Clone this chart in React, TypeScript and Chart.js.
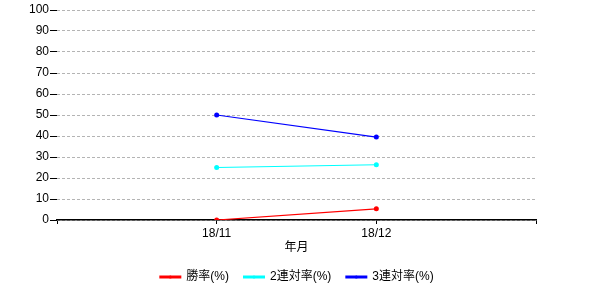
import { useEffect, useRef } from "react";
import { Chart, registerables } from "chart.js";

Chart.register(...registerables);

const categories = ["18/11", "18/12"];
const winRate = [0, 5.3];
const top2Rate = [25, 26.3];
const top3Rate = [50, 39.5];
const seriesNames = ["勝率(%)", "2連対率(%)", "3連対率(%)"];
const seriesColors = ["#ff0000", "#00ffff", "#0000ff"];
const yTicks = [0, 10, 20, 30, 40, 50, 60, 70, 80, 90, 100];
const xTitle = "年月";

const FONT = "'Liberation Sans', 'Noto Sans CJK JP', sans-serif";

const legendPlugin = {
  id: "customLegend",
  afterDraw(chart: any) {
    const ctx = chart.ctx;
    const area = chart.chartArea;
    ctx.save();
    ctx.font = `12px ${FONT}`;
    const lineW = 22;
    const gap = 5;
    const spacing = 14;
    const widths = seriesNames.map((n) => ctx.measureText(n).width);
    const total =
      widths.reduce((a, b) => a + b, 0) + seriesNames.length * (lineW + gap) + spacing * (seriesNames.length - 1);
    let x = (area.left + area.right) / 2 - total / 2;
    const y = 277;
    seriesNames.forEach((n, i) => {
      ctx.strokeStyle = seriesColors[i];
      ctx.lineWidth = 3;
      ctx.beginPath();
      ctx.moveTo(x, y);
      ctx.lineTo(x + lineW, y);
      ctx.stroke();
      ctx.fillStyle = seriesColors[i];
      ctx.beginPath();
      ctx.arc(x + lineW / 2, y, 1.5, 0, Math.PI * 2);
      ctx.fill();
      ctx.fillStyle = "#000";
      ctx.textBaseline = "middle";
      ctx.textAlign = "left";
      ctx.fillText(n, x + lineW + gap, y);
      x += lineW + gap + widths[i] + spacing;
    });
    ctx.textAlign = "center";
    ctx.fillText(xTitle, (area.left + area.right) / 2, 248);
    ctx.restore();
  },
};

export default function App() {
  const ref = useRef<HTMLCanvasElement>(null);
  useEffect(() => {
    document.body.style.margin = "0";
    const labels = ["", ...categories, ""];
    const pad = (arr: number[]) => [null, ...arr, null];
    const datasets = [winRate, top2Rate, top3Rate].map((d, i) => ({
      label: seriesNames[i],
      data: pad(d),
      borderColor: seriesColors[i],
      backgroundColor: seriesColors[i],
      borderWidth: 1.2,
      pointRadius: 2.5,
      pointBorderWidth: 0,
      pointHoverRadius: 2.5,
      spanGaps: false,
    }));
    const chart = new Chart(ref.current!, {
      type: "line",
      data: { labels, datasets },
      plugins: [legendPlugin],
      options: {
        animation: false,
        responsive: false,
        layout: { padding: { top: 10, right: 64, left: 0, bottom: 40 } },
        plugins: { legend: { display: false }, tooltip: { enabled: false } },
        scales: {
          x: {
            type: "category",
            offset: false,
            grid: {
              drawOnChartArea: false,
              drawTicks: true,
              tickLength: 4,
              tickColor: "#000",
              color: "#000",
            },
            border: { display: true, color: "#000", width: 1.5 },
            ticks: {
              autoSkip: false,
              maxRotation: 0,
              padding: 2,
              color: "#000",
              font: { family: FONT, size: 12 },
            },
            afterFit(scale: any) {
              scale.height = 40;
            },
          },
          y: {
            min: 0,
            max: 100,
            afterBuildTicks(scale: any) {
              scale.ticks = yTicks.map((v) => ({ value: v }));
            },
            grid: {
              color: "#b4b4b4",
              tickBorderDash: [1, 0],
              tickColor: "#000",
              tickLength: 7,
              tickWidth: 1,
            } as any,
            border: { display: false, dash: [3, 2] },
            ticks: {
              padding: 1,
              color: "#000",
              font: { family: FONT, size: 12 },
            },
            afterFit(scale: any) {
              scale.width = 57;
            },
          },
        },
      },
    });
    return () => chart.destroy();
  }, []);
  return <canvas ref={ref} width={600} height={300} style={{ display: "block" }} />;
}
